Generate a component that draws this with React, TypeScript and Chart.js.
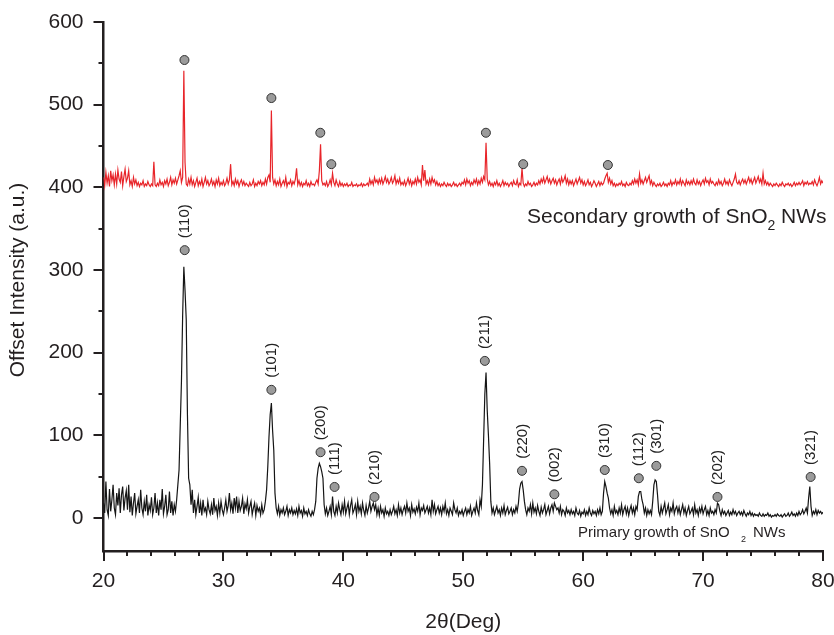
import React, { useEffect, useRef } from "react";
import { Chart, registerables } from "chart.js";

Chart.register(...registerables);

// 2θ sampling grid: 20.0 .. 80.0 in 0.1° steps (one row per degree)
const angleStart = 20;
const angleStep = 0.1;

const primaryCounts = [
  18, 6, 44, 10, 3, 35, 8, 22, 40, 12,
  4, 30, 15, 36, 6, 28, 38, 9, 24, 33,
  10, 40, 7, 26, 3, 18, 30, 5, 14, 22,
  6, 34, 12, 4, 20, 8, 28, 3, 16, 9,
  25, 4, 12, 30, 6, 18, 3, 22, 10, 35,
  5, 14, 28, 4, 10, 32, 6, 20, 3, 16,
  8, 22, 40, 58, 112, 165, 245, 304, 275, 240,
  125, 48, 40, 16, 34, 6, 22, 4, 14, 25,
  6, 18, 3, 22, 8, 12, 4, 20, 10, 5,
  16, 4, 24, 9, 14, 3, 18, 6, 20, 10,
  4, 12, 22, 8, 15, 30, 10, 18, 5, 24,
  12, 26, 6, 20, 9, 14, 24, 5, 17, 11,
  22, 6, 14, 20, 4, 12, 18, 3, 15, 8,
  12, 4, 16, 6, 10, 20, 34, 62, 98, 125,
  139, 106, 82, 30, 12, 5, 14, 3, 10, 6,
  12, 4, 8, 14, 3, 10, 6, 12, 4, 9,
  5, 11, 3, 14, 6, 9, 2, 12, 5, 8,
  3, 10, 5, 2, 8, 4, 10, 20, 48, 60,
  66, 62, 56, 48, 16, 5, 12, 3, 8, 14,
  4, 26, 8, 3, 14, 6, 18, 10, 4, 16,
  7, 20, 5, 12, 18, 4, 15, 22, 6, 10,
  16, 4, 20, 8, 14, 5, 18, 9, 3, 15,
  6, 12, 20, 8, 14, 18, 10, 16, 4, 12,
  3, 14, 6, 10, 2, 12, 5, 8, 3, 10,
  4, 8, 14, 5, 10, 3, 16, 6, 12, 4,
  10, 14, 6, 18, 8, 12, 3, 16, 7, 11,
  5, 13, 8, 18, 4, 12, 9, 15, 6, 10,
  14, 6, 12, 4, 22, 8, 16, 5, 10, 14,
  6, 12, 4, 14, 8, 18, 5, 10, 3, 12,
  8, 4, 18, 10, 6, 12, 3, 8, 5, 10,
  3, 8, 12, 4, 10, 6, 14, 3, 8, 12,
  6, 18, 9, 4, 22, 14, 40, 95, 150, 176,
  130, 100, 66, 20, 6, 12, 4, 9, 14, 6,
  10, 3, 12, 6, 15, 4, 9, 13, 5, 8,
  12, 4, 10, 6, 14, 8, 18, 35, 42, 44,
  34, 20, 10, 4, 12, 8, 16, 5, 18, 7,
  12, 5, 15, 8, 3, 13, 6, 10, 16, 4,
  9, 14, 5, 12, 16, 8, 18, 14, 10, 12,
  6, 14, 4, 10, 8, 3, 12, 6, 9, 4,
  10, 5, 8, 3, 12, 6, 4, 9, 2, 7,
  5, 10, 3, 8, 4, 12, 6, 3, 9, 5,
  8, 3, 10, 5, 12, 4, 8, 30, 44, 38,
  30, 24, 12, 5, 10, 3, 14, 6, 9, 4,
  12, 6, 16, 4, 10, 14, 5, 12, 3, 10,
  15, 6, 12, 4, 14, 10, 26, 32, 32, 22,
  16, 6, 12, 3, 10, 5, 9, 4, 20, 40,
  46, 44, 28, 8, 3, 14, 6, 12, 18, 5,
  10, 16, 4, 12, 8, 18, 5, 11, 14, 6,
  13, 4, 10, 16, 6, 12, 3, 9, 14, 5,
  8, 12, 4, 16, 6, 10, 3, 12, 7, 14,
  5, 10, 14, 4, 9, 3, 12, 6, 8, 4,
  10, 6, 18, 16, 8, 3, 10, 5, 8, 3,
  6, 9, 3, 7, 4, 10, 5, 8, 3, 6,
  8, 4, 7, 3, 9, 5, 2, 6, 4, 8,
  3, 6, 2, 5, 3, 4, 2, 6, 3, 2,
  5, 2, 4, 3, 6, 2, 4, 1, 3, 2,
  4, 2, 5, 3, 2, 4, 1, 3, 5, 2,
  3, 6, 2, 4, 7, 3, 5, 2, 6, 3,
  8, 4, 6, 10, 5, 8, 12, 6, 24, 38,
  14, 3, 8, 5, 10, 4, 9, 6, 8, 5,
  7,
];

const secondaryCounts = [
  412, 402, 418, 405, 414, 401, 420, 408, 415, 403,
  416, 404, 421, 410, 406, 419, 402, 413, 422, 407,
  411, 420, 403, 408, 401, 412, 404, 409, 402, 406,
  401, 405, 403, 408, 401, 404, 402, 407, 403, 401,
  404, 402, 431, 403, 401, 405, 402, 409, 403, 406,
  401, 408, 404, 410, 402, 406, 412, 403, 409, 405,
  411, 404, 409, 414, 420, 406, 412, 541, 430, 404,
  402, 410, 404, 412, 403, 408, 401, 406, 411, 402,
  407, 403, 410, 401, 406, 412, 404, 408, 402, 405,
  410, 403, 407, 401, 409, 404, 411, 402, 406, 403,
  408, 402, 405, 411, 404, 409, 428, 403, 407, 402,
  410, 404, 408, 401, 406, 409, 403, 407, 402, 405,
  403, 401, 406, 402, 404, 409, 401, 405, 402, 407,
  404, 408, 402, 406, 403, 410, 404, 412, 415, 406,
  493, 412, 404, 409, 402, 407, 403, 410, 401, 405,
  408, 403, 412, 401, 406, 404, 409, 402, 407, 404,
  410, 423, 403, 408, 402, 406, 401, 405, 403, 408,
  402, 405, 401, 407, 403, 404, 402, 406, 409, 404,
  420, 452, 408, 403, 405, 402, 407, 401, 404, 409,
  403, 417, 406, 402, 409, 404, 401, 407, 402, 405,
  401, 404, 402, 405, 401, 403, 402, 406, 401, 403,
  402, 404, 401, 403, 402, 405, 401, 404, 402, 403,
  405, 402, 410, 404, 408, 403, 412, 406, 409, 404,
  410, 405, 411, 404, 408, 413, 406, 410, 404, 407,
  412, 405, 408, 414, 404, 409, 405, 411, 403, 406,
  403, 408, 402, 406, 411, 404, 409, 402, 407, 404,
  410, 404, 412, 406, 409, 403, 427, 408, 421, 404,
  408, 403, 410, 404, 412, 406, 409, 403, 407, 402,
  405, 401, 404, 402, 406, 403, 401, 405, 402, 404,
  401, 403, 406, 402, 404, 401, 403, 405, 402, 406,
  404, 409, 403, 410, 405, 408, 402, 406, 403, 409,
  405, 410, 403, 408, 404, 411, 406, 413, 409, 454,
  410, 403, 407, 402, 405, 401, 406, 403, 408, 402,
  405, 401, 404, 408, 402, 406, 403, 405, 401, 404,
  406, 402, 408, 404, 403, 409, 401, 405, 403, 423,
  405, 401, 404, 402, 407, 403, 405, 401, 403, 406,
  402, 405, 403, 408, 404, 410, 406, 412, 405, 409,
  413, 406, 410, 404, 408, 411, 405, 409, 403, 407,
  410, 404, 412, 406, 409, 414, 405, 410, 403, 408,
  404, 408, 402, 406, 410, 404, 408, 412, 405, 409,
  403, 407, 402, 405, 409, 403, 406, 401, 404, 408,
  405, 401, 404, 407, 402, 406, 403, 405, 410, 414,
  417, 406, 411, 404, 408, 402, 405, 401, 404, 402,
  405, 403, 407, 402, 404, 401, 406, 403, 402, 405,
  403, 408, 404, 410, 405, 409, 403, 416, 405, 409,
  404, 408, 412, 406, 410, 414, 404, 408, 402, 406,
  403, 401, 404, 402, 405, 401, 403, 406, 402, 404,
  401, 405, 403, 408, 402, 406, 404, 409, 403, 407,
  404, 410, 403, 408, 405, 402, 409, 404, 407, 403,
  408, 404, 410, 405, 403, 409, 404, 407, 402, 406,
  409, 404, 411, 406, 408, 403, 410, 405, 407, 404,
  402, 406, 403, 409, 404, 407, 402, 405, 410, 404,
  407, 403, 409, 405, 402, 406, 410, 416, 406, 404,
  408, 403, 407, 410, 405, 409, 404, 408, 412, 406,
  410, 404, 408, 412, 405, 409, 413, 406, 410, 404,
  417, 404, 408, 403, 406, 402, 405, 403, 401, 404,
  402, 405, 403, 401, 404, 402, 406, 403, 401, 404,
  403, 405, 402, 404, 401, 403, 406, 402, 405, 403,
  406, 403, 405, 408, 402, 406, 404, 407, 403, 405,
  404, 407, 403, 409, 405, 402, 406, 412, 404, 408,
  405,
];

const primaryPeakAngles = [26.77, 34.0, 38.1, 39.27, 42.6, 51.8, 54.9, 57.6, 61.8, 64.64, 66.1, 71.2, 78.97];
const primaryPeakHeights = [324, 155, 79.5, 37.5, 25.4, 190, 57, 28.6, 58, 48, 63, 25.4, 49.6];
const primaryPeakLabels = ["(110)", "(101)", "(200)", "(111)", "(210)", "(211)", "(220)", "(002)", "(310)", "(112)", "(301)", "(202)", "(321)"];

const secondaryPeakAngles = [26.75, 34.0, 38.08, 39.0, 51.89, 55.0, 62.06];
const secondaryPeakHeights = [554, 508, 466, 428, 466, 428, 427];

const xTickValues = [20, 30, 40, 50, 60, 70, 80];
const yTickValues = [0, 100, 200, 300, 400, 500, 600];
const xMinorStep = 2;
const yMinorStep = 50;

const AXIS = "#231f20";
const FONT = "'Liberation Sans', Arial, Helvetica, sans-serif";

const toPoints = (vals: number[]) =>
  vals.map((v, i) => ({ x: Math.round((angleStart + i * angleStep) * 10) / 10, y: v }));

const annotate = {
  id: "annotate",
  afterDraw(chart: any) {
    const { ctx, chartArea, scales } = chart;
    const x = scales.x;
    const y = scales.y;
    ctx.save();
    // tick marks (major and minor, outward)
    ctx.strokeStyle = AXIS;
    ctx.lineWidth = 2;
    ctx.beginPath();
    for (let v = x.min; v <= x.max + 1e-9; v += xMinorStep) {
      const px = Math.round(x.getPixelForValue(v));
      const len = v % 10 === 0 ? 10 : 5;
      ctx.moveTo(px, chartArea.bottom);
      ctx.lineTo(px, chartArea.bottom + len);
    }
    for (let v = 0; v <= y.max + 1e-9; v += yMinorStep) {
      const py = Math.round(y.getPixelForValue(v));
      const len = v % 100 === 0 ? 10 : 5;
      ctx.moveTo(chartArea.left, py);
      ctx.lineTo(chartArea.left - len, py);
    }
    ctx.stroke();

    // peak labels (rotated)
    ctx.fillStyle = "#222";
    ctx.font = `15px ${FONT}`;
    ctx.textAlign = "left";
    ctx.textBaseline = "middle";
    primaryPeakLabels.forEach((lab, i) => {
      const px = x.getPixelForValue(primaryPeakAngles[i]);
      const py = y.getPixelForValue(primaryPeakHeights[i]);
      ctx.save();
      ctx.translate(px + 0.5, py - 12);
      ctx.rotate(-Math.PI / 2);
      ctx.fillText(lab, 0, 0);
      ctx.restore();
    });

    // axis titles
    ctx.fillStyle = "#231f20";
    ctx.font = `21px ${FONT}`;
    ctx.textAlign = "center";
    ctx.textBaseline = "middle";
    ctx.fillText("2θ(Deg)", (chartArea.left + chartArea.right) / 2, 622);
    ctx.save();
    ctx.translate(18, 280);
    ctx.rotate(-Math.PI / 2);
    ctx.fillText("Offset Intensity (a.u.)", 0, 0);
    ctx.restore();

    // series captions
    ctx.textAlign = "left";
    ctx.textBaseline = "alphabetic";
    // secondary
    let cx = 527;
    ctx.font = `21px ${FONT}`;
    const s1 = "Secondary growth of SnO";
    ctx.fillText(s1, cx, 223);
    cx += ctx.measureText(s1).width;
    ctx.font = `14px ${FONT}`;
    ctx.fillText("2", cx, 230);
    cx += ctx.measureText("2").width;
    ctx.font = `21px ${FONT}`;
    ctx.fillText(" NWs", cx, 223);
    // primary
    cx = 578;
    ctx.font = `15px ${FONT}`;
    const p1 = "Primary growth of SnO";
    ctx.fillText(p1, cx, 537);
    ctx.font = `9px ${FONT}`;
    ctx.fillText("2", 741, 542);
    ctx.font = `15px ${FONT}`;
    ctx.fillText("NWs", 753, 537);
    ctx.restore();
  },
};

export default function App() {
  const ref = useRef<HTMLCanvasElement | null>(null);
  useEffect(() => {
    if (!ref.current) return;
    const markerPoints = [
      ...primaryPeakAngles.map((a, i) => ({ x: a, y: primaryPeakHeights[i] })),
      ...secondaryPeakAngles.map((a, i) => ({ x: a, y: secondaryPeakHeights[i] })),
    ];
    const chart = new Chart(ref.current, {
      type: "line",
      data: {
        datasets: [
          {
            type: "scatter",
            label: "peaks",
            data: markerPoints,
            pointRadius: 4.5,
            pointBackgroundColor: "#9b9b9b",
            pointBorderColor: "#333",
            pointBorderWidth: 1,
            showLine: false,
            order: 1,
          } as any,
          {
            label: "Secondary growth",
            data: toPoints(secondaryCounts),
            borderColor: "#e8252a",
            borderWidth: 1.2,
            pointRadius: 0,
            fill: false,
            tension: 0,
            order: 2,
          },
          {
            label: "Primary growth",
            data: toPoints(primaryCounts),
            borderColor: "#151515",
            borderWidth: 1.2,
            pointRadius: 0,
            fill: false,
            tension: 0,
            order: 3,
          },
        ],
      },
      options: {
        responsive: false,
        animation: false,
        events: [],
        layout: { padding: { top: 22, right: 11, left: 0, bottom: 0 } },
        plugins: { legend: { display: false }, tooltip: { enabled: false } },
        scales: {
          x: {
            type: "linear",
            min: 20,
            max: 80,
            afterFit: (s: any) => {
              s.height = 84;
              s.paddingLeft = 0; s.paddingRight = 0; s.paddingTop = 0; s.paddingBottom = 0;
            },
            afterBuildTicks: (s: any) => { s.ticks = xTickValues.map((v) => ({ value: v })); },
            border: { display: true, color: AXIS, width: 2.5 },
            grid: { display: true, drawOnChartArea: false, drawTicks: false, color: "rgba(0,0,0,0)" },
            ticks: { padding: 18, color: "#231f20", font: { size: 21, family: FONT }, maxRotation: 0 },
          },
          y: {
            type: "linear",
            min: -40,
            max: 600,
            afterFit: (s: any) => {
              s.width = 103.5;
              s.paddingLeft = 0; s.paddingRight = 0; s.paddingTop = 0; s.paddingBottom = 0;
            },
            afterBuildTicks: (s: any) => { s.ticks = yTickValues.map((v) => ({ value: v })); },
            border: { display: true, color: AXIS, width: 2.5 },
            grid: { display: true, drawOnChartArea: false, drawTicks: false, color: "rgba(0,0,0,0)" },
            ticks: { padding: 20, color: "#231f20", font: { size: 21, family: FONT } },
          },
        },
      },
      plugins: [annotate],
    });
    return () => chart.destroy();
  }, []);
  return (
    <div style={{ position: "absolute", left: 0, top: 0, width: 834, height: 635, background: "#fff" }}>
      <canvas ref={ref} width={834} height={635} style={{ display: "block" }} />
    </div>
  );
}
